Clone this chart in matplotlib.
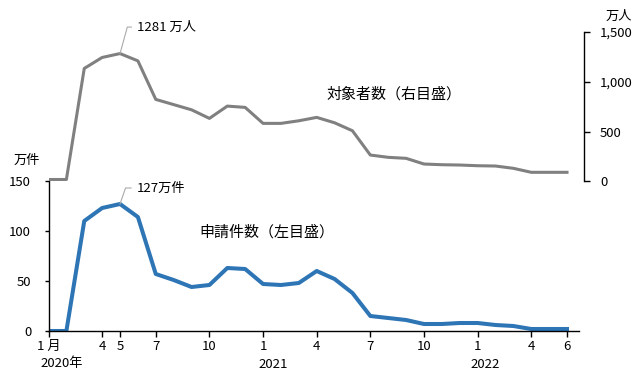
import numpy as np
import matplotlib
matplotlib.use('Agg')
import matplotlib.pyplot as plt
from matplotlib.lines import Line2D
from matplotlib.transforms import IdentityTransform

plt.rcParams['font.family'] = ['Noto Sans CJK JP', 'DejaVu Sans']

# ── data ──────────────────────────────────────────────────────────────────────
# monthly, Jan 2020 .. Jun 2022
months = np.arange(30)
applications = [0, 0, 110, 123, 127, 114, 57, 51, 44, 46, 63, 62,
                47, 46, 48, 60, 52, 38, 15, 13, 11, 7, 7, 8,
                8, 6, 5, 2, 2, 2]                      # 申請件数 (万件)
eligible = [20, 20, 1132, 1242, 1281, 1208, 822, 770, 718, 632, 755, 742,
            582, 582, 608, 642, 588, 508, 265, 242, 232, 175, 168, 165,
            158, 155, 132, 92, 92, 92]                 # 対象者数 (万人)

tick_pos = [0, 3, 4, 6, 9, 12, 15, 18, 21, 24, 27, 29]
tick_labels = ['1 月', '4', '5', '7', '10', '1', '4', '7', '10', '1', '4', '6']
year_labels = ['2020年', '2021', '2022']
year_pos = [0.75, 12.55, 24.45]

BLUE = '#2E75B6'
GRAY = '#808080'
W, H = 643, 378
step = (567 - 48.5) / 29        # px per month

fig = plt.figure(figsize=(W / 100, H / 100), dpi=100)


def leader(axis, x, y, dx, dy, run, label):
    # thin grey leader: diagonal up from the point, short horizontal, then text
    px, py = axis.transData.transform((x, y))
    xs = [px, px + dx, px + dx + run]
    ys = [py, py + dy, py + dy]
    fig.add_artist(Line2D(xs, ys, transform=IdentityTransform(),
                          color='#aaaaaa', lw=0.8))
    fig.text((px + dx + run + 5.5) / W, (py + dy) / H, label,
             ha='left', va='center', fontsize=9.5)


# ── lower panel: applications (left axis) ────────────────────────────────────
ax = fig.add_axes([48.5 / W, (H - 331) / H, (579 - 48.5) / W, 150 / H])
ax.plot(months, applications, color=BLUE, linewidth=2.9, solid_joinstyle='round')
ax.set_xlim(0, (579 - 48.5) / step)
ax.set_ylim(0, 150)
ax.set_yticks([0, 50, 100, 150])
ax.set_xticks(tick_pos)
ax.set_xticklabels(tick_labels)
for s in ['top', 'right']:
    ax.spines[s].set_visible(False)
for s in ['left', 'bottom']:
    ax.spines[s].set_linewidth(1.0)
ax.tick_params(axis='y', length=3, width=1.0, pad=9.5, labelsize=9.5)
ax.tick_params(axis='x', length=4, width=1.0, pad=2.5, labelsize=9.5)
ax.patch.set_alpha(0)

for x, lab in zip(year_pos, year_labels):
    ax.text(x, -0.22, lab, transform=ax.get_xaxis_transform(),
            ha='center', va='center', fontsize=9.5)

ax.text(-0.065, 1.14, '万件', transform=ax.transAxes, ha='left', va='center',
        fontsize=9.5)
ax.text(12.2, 99, '申請件数（左目盛）', ha='center', va='center', fontsize=10.8)

# ── upper panel: eligible persons (right axis) ───────────────────────────────
ax2 = fig.add_axes([48.5 / W, (H - 181.5) / H, (584 - 48.5) / W, 149.8 / H])
ax2.plot(months, eligible, color=GRAY, linewidth=2.2, solid_joinstyle='round')
ax2.set_xlim(0, (584 - 48.5) / step)
ax2.set_ylim(0, 1500)
ax2.set_yticks([0, 500, 1000, 1500])
ax2.set_yticklabels(['0', '500', '1,000', '1,500'])
ax2.yaxis.tick_right()
ax2.set_xticks([])
for s in ['top', 'left', 'bottom']:
    ax2.spines[s].set_visible(False)
ax2.spines['right'].set_linewidth(1.0)
ax2.tick_params(axis='y', length=4, width=1.0, pad=7.5, labelsize=9.5)
ax2.patch.set_alpha(0)

ax2.text(1.04, 1.1, '万人', transform=ax2.transAxes, ha='left', va='center',
         fontsize=9.5)
ax2.text(19.3, 875, '対象者数（右目盛）', ha='center', va='center', fontsize=10.8)

leader(ax, 4, applications[4], 5.5, 16.0, 5.5, '127万件')
leader(ax2, 4, eligible[4], 7.3, 26.5, 4.0, '1281 万人')

fig.savefig('out.png', dpi=100)
